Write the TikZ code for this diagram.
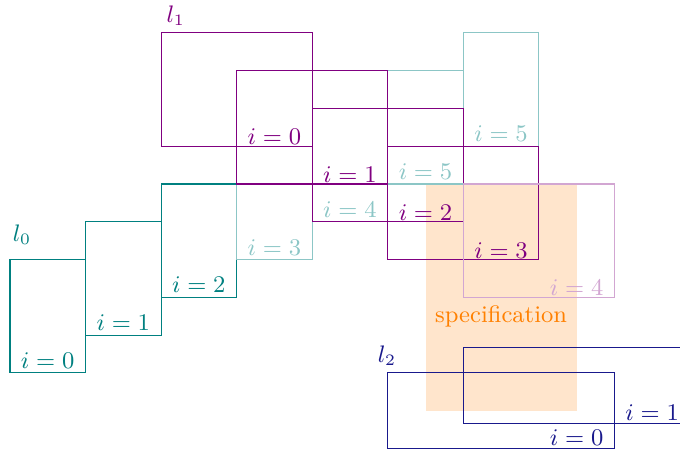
\documentclass[tikz,border=0pt]{standalone}
\definecolor{lzc}{rgb}{0,0.5,0.5}
\colorlet{lzl}{lzc!45}
\definecolor{loc}{rgb}{0.5,0,0.5}
\colorlet{lol}{loc!35}
\definecolor{ltc}{rgb}{0.1,0.1,0.55}
\definecolor{specfill}{rgb}{1,0.9,0.8}
\definecolor{spectext}{rgb}{1,0.5,0}
\begin{document}
\begin{tikzpicture}[x=0.5cm,y=0.5cm,font=\small,line width=0.4pt,
  labz/.style={anchor=south east,inner sep=0pt,xshift=-4pt,yshift=1.5pt},
  labo/.style={anchor=south east,inner sep=0pt,xshift=-4pt,yshift=0.3pt},
  labt/.style={anchor=south east,inner sep=0pt,xshift=-4pt,yshift=0.8pt},
  zbox/.style={draw=lzc},
  zlbox/.style={draw=lzl},
  obox/.style={draw=loc},
  olbox/.style={draw=lol},
  tbox/.style={draw=ltc}]
\useasboundingbox (-0.265,-2.09) rectangle (17.735,9.87);
% specification
\fill[specfill] (11,-1) rectangle (15,5);
\node[text=spectext] (spec) at (13,1.5) {specification};
% l0
\node[text=lzc] (lzero) at (0.32,3.65) {$l_0$};
\draw[zbox] (0,3) rectangle (2,0) node[labz,text=lzc] (z0) {$i=0$};
\draw[zbox] (2,4) rectangle (4,1) node[labz,text=lzc] (z1) {$i=1$};
\draw[zbox] (4,5) rectangle (6,2) node[labz,text=lzc] (z2) {$i=2$};
\draw[zlbox] (6,6) rectangle (8,3) node[labz,text=lzl] (z3) {$i=3$};
\draw[zlbox] (8,7) rectangle (10,4) node[labz,text=lzl] (z4) {$i=4$};
\draw[zlbox] (10,8) rectangle (12,5) node[labz,text=lzl] (z5) {$i=5$};
\draw[zlbox] (12,9) rectangle (14,6) node[labz,text=lzl] (z6) {$i=5$};
% l1
\node[text=loc] (lone) at (4.39,9.45) {$l_1$};
\draw[obox] (4,9) rectangle (8,6) node[labo,text=loc] (o0) {$i=0$};
\draw[obox] (6,8) rectangle (10,5) node[labo,text=loc] (o1) {$i=1$};
\draw[obox] (8,7) rectangle (12,4) node[labo,text=loc] (o2) {$i=2$};
\draw[obox] (10,6) rectangle (14,3) node[labo,text=loc] (o3) {$i=3$};
\draw[olbox] (12,5) rectangle (16,2) node[labo,text=lol] (o4) {$i=4$};
% l2
\node[text=ltc] (ltwo) at (9.98,0.45) {$l_2$};
\draw[tbox] (10,0) rectangle (16,-2) node[labt,text=ltc] (t0) {$i=0$};
\draw[tbox] (12,0.667) rectangle (18,-1.333) node[labt,text=ltc] (t1) {$i=1$};
\end{tikzpicture}
\end{document}
